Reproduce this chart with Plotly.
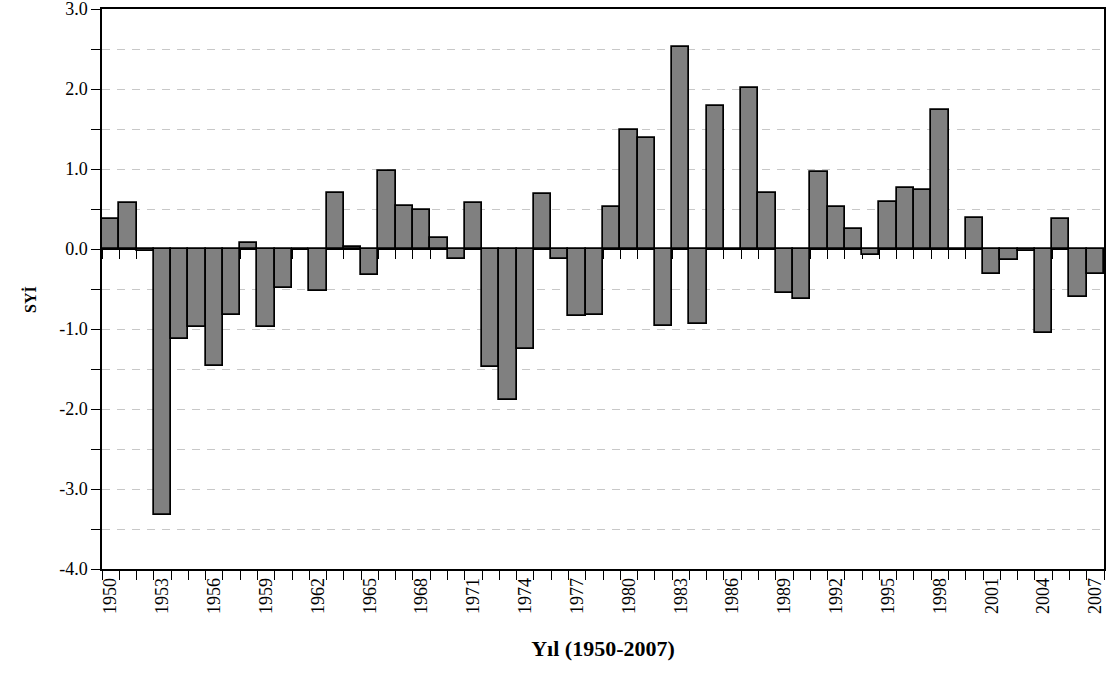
import plotly.graph_objects as go

# Standardised precipitation index per year
years = list(range(1950, 2008))
syi = [
    0.37, 0.57, -0.02, -3.33, -1.13, -0.97, -1.46, -0.82, 0.08, -0.98,
    -0.49, 0.00, -0.53, 0.70, 0.02, -0.33, 0.98, 0.54, 0.49, 0.14,
    -0.13, 0.57, -1.48, -1.89, -1.25, 0.69, -0.12, -0.84, -0.82, 0.53,
    1.49, 1.39, -0.96, 2.52, -0.94, 1.79, 0.00, 2.01, 0.70, -0.55,
    -0.62, 0.96, 0.53, 0.25, -0.08, 0.59, 0.76, 0.74, 1.74, 0.00,
    0.39, -0.31, -0.14, -0.02, -1.05, 0.37, -0.60, -0.31,
]

x_tick_years = list(range(1950, 2008, 3))
x_tick_labels = [str(y) for y in x_tick_years]
y_tick_vals = [-4, -3, -2, -1, 0, 1, 2, 3]
y_tick_labels = ["-4.0", "-3.0", "-2.0", "-1.0", "0.0", "1.0", "2.0", "3.0"]

FONT = "Liberation Serif, Times New Roman, serif"
y_min, y_max = -4.0, 3.0
GRID = "#c8c8c8"

fig = go.Figure()
fig.add_trace(go.Bar(
    x=years, y=syi,
    marker=dict(color="#808080", line=dict(color="black", width=1.7)),
    width=1.0,
    xaxis="x", yaxis="y",
    showlegend=False,
))

# invisible trace so the zero-line axis is rendered
fig.add_trace(go.Scatter(x=[years[0]], y=[0], mode="markers",
                         marker=dict(opacity=0), xaxis="x2", yaxis="y",
                         showlegend=False, hoverinfo="skip"))

minor_x = dict(tickmode="linear", tick0=years[0] - 0.5, dtick=1,
               ticks="outside", ticklen=9, tickcolor="black", tickwidth=1.3,
               showgrid=False)

fig.update_layout(
    width=1109, height=673,
    margin=dict(l=102, r=5, t=9, b=104),
    paper_bgcolor="white", plot_bgcolor="white",
    bargap=0,
    font=dict(family=FONT, size=18, color="black"),
    xaxis=dict(
        range=[years[0] - 0.5, years[-1] + 0.5],
        tickmode="array", tickvals=x_tick_years, ticktext=x_tick_labels,
        tickangle=-90, ticks="", showgrid=False, zeroline=False,
        showline=True, linecolor="black", linewidth=1.5, mirror=True,
        ticklabeloverflow="allow", automargin=False,
        minor=minor_x,
        title=dict(text="<b>Yıl (1950-2007)</b>", standoff=28,
                   font=dict(family=FONT, size=22)),
        tickfont=dict(family=FONT, size=18),
    ),
    xaxis2=dict(
        overlaying="x", matches="x", anchor="free",
        position=(0 - y_min) / (y_max - y_min),
        range=[years[0] - 0.5, years[-1] + 0.5],
        showticklabels=False, ticks="", showgrid=False, zeroline=False,
        showline=True, linecolor="black", linewidth=1.5,
        layer="below traces", automargin=False,
        minor=minor_x,
    ),
    yaxis=dict(
        range=[y_min, y_max],
        tickmode="array", tickvals=y_tick_vals, ticktext=y_tick_labels,
        ticks="outside", ticklen=9, tickcolor="black", tickwidth=1.3,
        showgrid=True, gridcolor=GRID, griddash="8px,7px", gridwidth=1,
        zeroline=False, ticklabeloverflow="allow", automargin=False,
        showline=True, linecolor="black", linewidth=1.5, mirror=True,
        minor=dict(tickmode="linear", tick0=-3.5, dtick=1,
                   ticks="outside", ticklen=9, tickcolor="black", tickwidth=1.3,
                   showgrid=True, gridcolor=GRID, griddash="8px,7px", gridwidth=1),
        tickfont=dict(family=FONT, size=18),
    ),
    annotations=[dict(
        text="<b>SYİ</b>", textangle=-90,
        xref="paper", yref="paper", x=-0.072, y=0.482,
        xanchor="center", yanchor="middle", showarrow=False,
        font=dict(family=FONT, size=16),
    )],
)

fig.write_html("out.html")
